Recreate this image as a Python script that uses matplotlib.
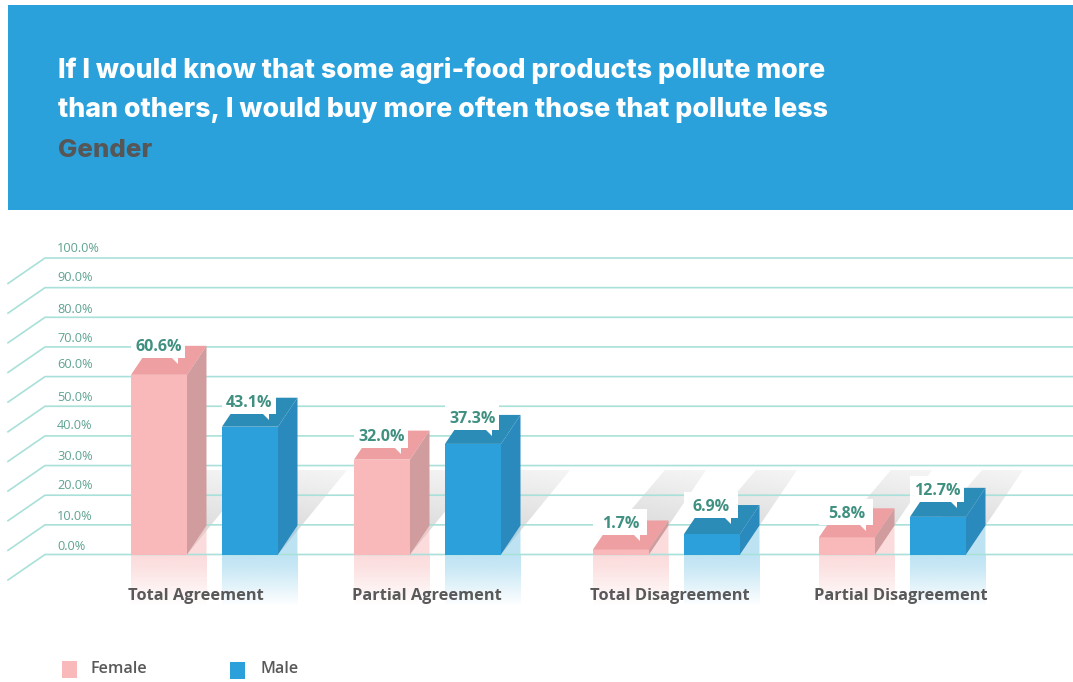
import numpy as np
import matplotlib
matplotlib.use('Agg')
from matplotlib import pyplot as plt
from matplotlib.patches import Polygon, Rectangle

categories = ['Total Agreement', 'Partial Agreement', 'Total Disagreement', 'Partial Disagreement']
female = [60.6, 32.0, 1.7, 5.8]
male = [43.1, 37.3, 6.9, 12.7]
ticks = [0, 10, 20, 30, 40, 50, 60, 70, 80, 90, 100]
title_lines = ['If I would know that some agri-food products pollute more',
               'than others, I would buy more often those that pollute less']
subtitle = 'Gender'

# layout, all in pixels of the 1073x682 picture
W, H = 1073, 682
y0_px, px_per_pct = 554.5, 2.965
female_x = [131, 354, 593, 819]
male_x = [222, 445, 684, 910]
cat_x = [196, 427, 670, 901]
tick_gap = [9.5, 9.5, 11, 10, 11.5, 10, 13.5, 9, 9, 11, 11]
shadow_dx = [69, 69, 57, 57]
female_lift = [30, 25, 27, 25]
male_lift = [26, 27, 29, 28]
bar_w, dep_x, dep_y = 56, 19.5, 29 / px_per_pct

pink, pink_top, pink_side = '#f9b8b9', '#ee9fa1', '#d19c9e'
blue, blue_top, blue_side = '#2ba0da', '#2c8cb8', '#2a8abd'
teal = '#3f9080'
grid_c = '#a9e0d9'
grey = '#595959'
font = 'Open Sans'
title_font = 'Inter'


def py(p):
    # picture pixel row -> value axis
    return (y0_px - p) / px_per_pct


fig = plt.figure(figsize=(W / 100, H / 100), dpi=100)
ax = fig.add_axes([0, 0, 1, 1])
ax.axis('off')

# banner
ax.add_patch(Rectangle((8, py(210)), W - 8, py(5) - py(210), color='#2ba1dc', lw=0, zorder=1))
ax.text(58, py(70), title_lines[0], color='white', fontsize=19.3, fontweight='heavy', family=title_font, va='center')
ax.text(58, py(110), title_lines[1], color='white', fontsize=19.3, fontweight='heavy', family=title_font, va='center')
ax.text(58, py(150), subtitle, color='#565656', fontsize=18.6, fontweight='heavy', family=title_font, va='center')

# floor shadows, behind the grid
shadow_top = py(470)
gx, gy = np.meshgrid(np.linspace(0, 1, 64), np.linspace(0, 1, 64))
grad = 0.93 - 0.12 * gy + 0.03 * gx
for i in range(len(categories)):
    for x in (female_x[i], male_x[i]):
        dx = shadow_dx[i]
        pts = [(x, 0), (x + bar_w, 0), (x + bar_w + dx, shadow_top), (x + 72, shadow_top)]
        im = ax.imshow(grad, cmap='gray', vmin=0, vmax=1, aspect='auto', zorder=2,
                       extent=[x, x + bar_w + dx, 0, shadow_top])
        clip = Polygon(pts, transform=ax.transData, fc='none', ec='none')
        ax.add_patch(clip)
        im.set_clip_path(clip)

# grid with the slanted part on the left
for t in ticks:
    ax.plot([8, 45, W], [t - 25.5 / px_per_pct, t, t], color=grid_c, lw=1.2, zorder=3)
    ax.text(57, t + (tick_gap[ticks.index(t)] - 1) / px_per_pct, '%.1f%%' % t, color='#5fa392', fontsize=9.2,
            family=font, va='center', ha='left', zorder=3)


def reflection(x, colour):
    rgb = matplotlib.colors.to_rgb(colour)
    alpha = np.concatenate([np.linspace(0.5, 0.42, 16), np.linspace(0.42, 0, 48)])
    img = np.ones((64, 1, 4))
    img[:, 0, :3] = rgb
    img[:, 0, 3] = alpha
    ax.imshow(img, aspect='auto', zorder=2.5, extent=[x, x + bar_w + dep_x, py(606), 0])
    # bit of the floor seen under the side face
    ax.add_patch(Polygon([(x + bar_w, 0), (x + bar_w + dep_x, dep_y), (x + bar_w + dep_x, 0)],
                         fc=rgb, alpha=0.5, lw=0, zorder=2.6))


def bar(x, v, front, top, side):
    ax.add_patch(Rectangle((x, 0), bar_w, v, fc=front, lw=0, zorder=5))
    ax.add_patch(Polygon([(x, v), (x + bar_w, v), (x + bar_w + dep_x, v + dep_y), (x + dep_x, v + dep_y)],
                         fc=top, lw=0, zorder=5))
    ax.add_patch(Polygon([(x + bar_w, 0), (x + bar_w + dep_x, dep_y), (x + bar_w + dep_x, v + dep_y),
                          (x + bar_w, v)], fc=side, lw=0, zorder=5))


def callout(x, v, lift):
    # white label box with a small pointer, sitting on the top face
    cy = v + lift / px_per_pct
    h = 13 / px_per_pct
    ax.add_patch(Polygon([(x, cy - h), (x + 54, cy - h), (x + 54, cy + h), (x, cy + h)], fc='white', lw=0, zorder=6))
    ax.add_patch(Polygon([(x + 41, cy - h), (x + 47, cy - h), (x + 47, cy - h - 6 / px_per_pct)],
                         fc='white', lw=0, zorder=6))
    ax.text(x + 27.5, cy - 2 / px_per_pct, '%.1f%%' % v, color=teal, fontsize=11.5, fontweight='bold', family=font,
            ha='center', va='center', zorder=7)


for i in range(len(categories)):
    reflection(female_x[i], pink)
    reflection(male_x[i], '#7cc8e8')
    bar(female_x[i], female[i], pink, pink_top, pink_side)
    bar(male_x[i], male[i], blue, blue_top, blue_side)
    callout(female_x[i], female[i], female_lift[i])
    callout(male_x[i], male[i], male_lift[i])
    ax.text(cat_x[i], py(596), categories[i], color=grey, fontsize=11.8, fontweight='bold', family=font,
            ha='center', va='center', zorder=7)

# legend
ax.add_patch(Rectangle((62, py(678)), 15, 17 / px_per_pct, fc=pink, lw=0, zorder=5))
ax.add_patch(Rectangle((230, py(679)), 15, 17 / px_per_pct, fc=blue, lw=0, zorder=5))
ax.text(91, py(669), 'Female', color=grey, fontsize=11.6, family=font, fontweight='semibold', va='center')
ax.text(260, py(669), 'Male', color=grey, fontsize=11.6, family=font, fontweight='semibold', va='center')

ax.set_xlim(0, W)
ax.set_ylim(py(H), py(0))
fig.savefig('out.png', dpi=100)
